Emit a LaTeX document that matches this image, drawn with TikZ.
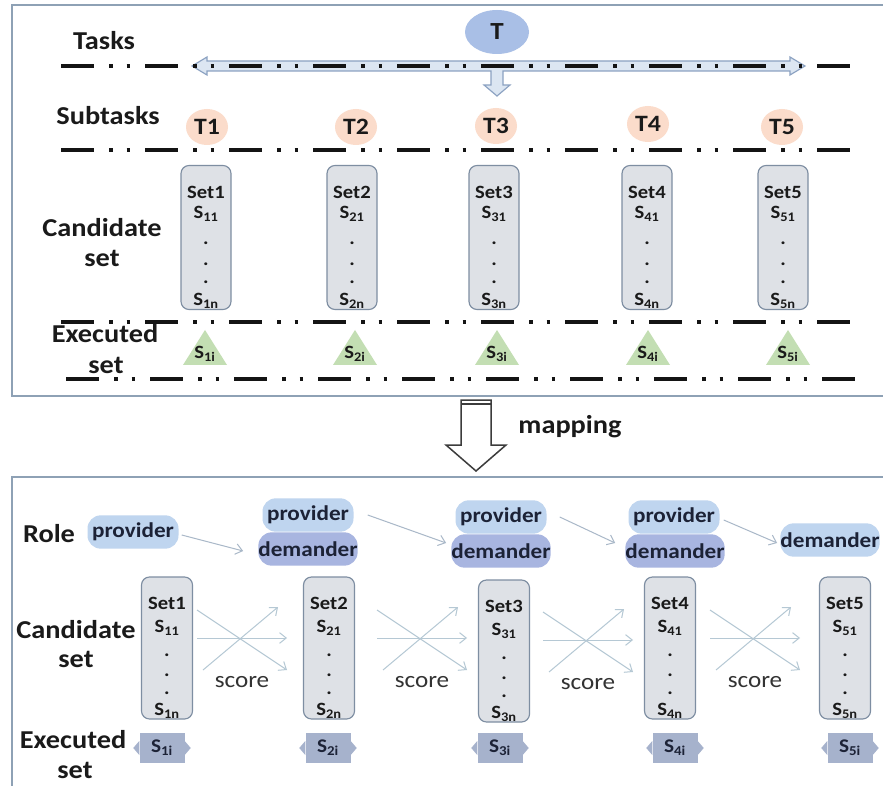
\documentclass[tikz,border=0pt]{standalone}
\usepackage{fontspec}
\setmainfont{Carlito}[FakeStretch=1.1]
\usetikzlibrary{shapes.geometric,arrows.meta,calc}
\definecolor{frameC}{HTML}{8EA1B5}
\definecolor{txtC}{HTML}{1A1A1A}
\definecolor{tC}{HTML}{A9BFE6}
\definecolor{arrF}{HTML}{DCE6F2}
\definecolor{arrD}{HTML}{8CA2C2}
\definecolor{subC}{HTML}{FBDCCB}
\definecolor{boxF}{HTML}{DEE1E6}
\definecolor{boxD}{HTML}{7E8EA2}
\definecolor{triC}{HTML}{C3DEB3}
\definecolor{provC}{HTML}{BFD5EF}
\definecolor{demC}{HTML}{A8B5E0}
\definecolor{exeC}{HTML}{A6B2CC}
\definecolor{rarC}{HTML}{A9B8C8}
\definecolor{xC}{HTML}{B5C8D4}
\definecolor{mapC}{HTML}{3C3C3C}
\definecolor{roleT}{HTML}{1C2236}
\begin{document}
\begin{tikzpicture}[x=0.3mm,y=-0.3mm,
  frame/.style={draw=frameC, line width=0.45mm},
  dline/.style={draw=black!92, line width=1.2mm, dash pattern=on 9.9mm off 4.5mm on 1.05mm off 4.2mm on 1.05mm off 4.5mm},
  lab/.style={font=\fontsize{22}{24}\selectfont\bfseries, text=txtC, anchor=base, inner sep=0pt},
  btxt/.style={font=\fontsize{16}{18}\selectfont\bfseries, text=txtC, anchor=base, inner sep=0pt},
  setbox/.style={draw=boxD, fill=boxF, rounded corners=2.4mm, minimum width=15mm, minimum height=43.2mm, line width=0.35mm, inner sep=0pt},
  subt/.style={ellipse, fill=subC, minimum width=12.6mm, minimum height=10.8mm, inner sep=0pt, font=\fontsize{20}{22}\selectfont\bfseries, text=txtC},
  role/.style={rounded corners=4mm, minimum height=10mm, inner sep=0pt, font=\fontsize{18}{20}\selectfont\bfseries, text=roleT},
  prov/.style={role, fill=provC, minimum width=27.3mm},
  dem/.style={role, fill=demC, minimum width=28.8mm},
  rarr/.style={draw=rarC, line width=0.3mm, -{Straight Barb[length=2mm,width=3.2mm]}},
  xarr/.style={draw=xC, line width=0.3mm, -{Straight Barb[length=2mm,width=3.2mm]}},
  exe/.style={fill=exeC, minimum width=13.5mm, minimum height=9mm, inner sep=0pt, font=\fontsize{16.5}{18}\selectfont\bfseries, text=roleT},
  tritxt/.style={font=\fontsize{16}{18}\selectfont\bfseries, text=txtC, anchor=base, inner sep=0pt},
  sc/.style={font=\fontsize{19.5}{22}\selectfont, text=black!80, anchor=base, inner sep=0pt}
]
\useasboundingbox (0,0) rectangle (883,786);
\clip (0,0) rectangle (883,786);
\fill[white] (0,0) rectangle (883,786);

% frames
\draw[frame] (12,5) rectangle (900,396);
\draw[frame] (12,477) rectangle (900,800);

% ---------------- top part ----------------
\node[ellipse, fill=tC, minimum width=19.2mm, minimum height=13.2mm, inner sep=0pt,
      font=\fontsize{21}{22}\selectfont\bfseries, text=txtC] (T) at (497,32) {T};

\filldraw[fill=arrF, draw=arrD, line width=0.35mm, line join=miter]
  (192,66) -- (207,57) -- (207,61) -- (790,61) -- (790,57) -- (805,66) -- (790,75) -- (790,71)
  -- (503,71) -- (503,85) -- (510,85) -- (497,96) -- (484,85) -- (491,85) -- (491,71)
  -- (207,71) -- (207,75) -- cycle;

\draw[dline] (61,66) -- (851,66);
\draw[dline] (61,150) -- (851,150);
\draw[dline] (61,322) -- (851,322);
\draw[dline] (66,379) -- (856,379);

\node[lab] (lTasks) at (104,50) {Tasks};
\node[lab] (lSub) at (108,125) {Subtasks};
\node[lab] (lCand) at (102,237) {Candidate};
\node[lab] (lCandS) at (102,267) {set};
\node[lab] (lExe) at (105,343) {Executed};
\node[lab] (lExeS) at (106,373) {set};

\foreach \i/\x/\y in {1/207/127,2/356/127,3/496/126,4/648/124,5/782/127}{
  \node[subt] (t\i) at (\x,\y) {T\i};
}

\foreach \i/\x in {1/206,2/352,3/494,4/647,5/783}{
  \node[setbox] (c\i) at (\x,237.5) {};
  \node[btxt] (c\i-a) at ($(c\i.north)+(0,34)$) {Set\i};
  \node[btxt] (c\i-b) at ($(c\i.north)+(0,54)$) {S\textsubscript{\i1}};
  \node[btxt] (c\i-c) at ($(c\i.north)+(0,80)$) {.};
  \node[btxt] (c\i-d) at ($(c\i.north)+(0,101)$) {.};
  \node[btxt] (c\i-e) at ($(c\i.north)+(0,119)$) {.};
  \node[btxt] (c\i-f) at ($(c\i.north)+(0,141)$) {S\textsubscript{\i n}};
}

\foreach \i/\x in {1/205,2/355,3/497,4/648,5/788}{
  \fill[triC] (\x,330) -- (\x+22,365) -- (\x-22,365) -- cycle;
  \node[tritxt] (tr\i) at (\x,358) {S\textsubscript{\i i}};
}

% ---------------- mapping ----------------
\filldraw[fill=white, draw=mapC, line width=0.45mm, line join=miter]
  (461,400) -- (491,400) -- (491,445) -- (506,445) -- (476,471) -- (446,445) -- (461,445) -- cycle;
\draw[mapC, line width=0.45mm] (461,404) -- (491,404);
\node[lab] (lMap) at (570,433) {mapping};

% ---------------- bottom part ----------------
\node[lab] (lRole) at (49,542) {Role};
\node[lab] (lCand2) at (76,638) {Candidate};
\node[lab] (lCand2S) at (76,667) {set};
\node[lab] (lExe2) at (73,748) {Executed};
\node[lab] (lExe2S) at (75,778) {set};

\node[prov] (p1) at (133,532) {provider};
\node[prov] (p2) at (308,515) {provider};
\node[dem]  (d2) at (308,549) {demander};
\node[prov] (p3) at (501,517) {provider};
\node[dem]  (d3) at (501,551) {demander};
\node[prov] (p4) at (674,517) {provider};
\node[dem]  (d4) at (675,551) {demander};
\node[role, fill=provC, minimum width=28.2mm] (d5) at (830,540) {demander};

\draw[rarr] ($(p1.east)+(3,3)$) -- ($(d2.west)+(-15,2)$);
\draw[rarr] ($(p2.east)+(14,0)$) -- ($(d3.west)+(-5,-8)$);
\draw[rarr] ($(p3.east)+(13,0)$) -- ($(d4.west)+(-10,-8)$);
\draw[rarr] ($(p4.east)+(4,3)$) -- ($(d5.west)+(-3,3)$);

\foreach \i/\x/\y in {1/167/648,2/329/648,3/504/651,4/670/648,5/845/648}{
  \node[setbox, minimum width=15.3mm, minimum height=42.6mm] (b\i) at (\x,\y) {};
  \node[btxt] (b\i-a) at ($(b\i.north)+(0,33)$) {Set\i};
  \node[btxt] (b\i-b) at ($(b\i.north)+(0,56)$) {S\textsubscript{\i1}};
  \node[btxt] (b\i-c) at ($(b\i.north)+(0,80)$) {.};
  \node[btxt] (b\i-d) at ($(b\i.north)+(0,100)$) {.};
  \node[btxt] (b\i-e) at ($(b\i.north)+(0,118)$) {.};
  \node[btxt] (b\i-f) at ($(b\i.north)+(0,139)$) {S\textsubscript{\i n}};
}

\foreach \i/\x in {1/162,2/328,3/500,4/675,5/850}{
  \node[exe] (e\i) at (\x,748) {S\textsubscript{\i i}};
  \fill[exeC] ($(e\i.west)+(0,-7)$) -- ($(e\i.west)+(-6,0)$) -- ($(e\i.west)+(0,7)$) -- cycle;
  \fill[exeC] ($(e\i.east)+(0,-7)$) -- ($(e\i.east)+(6,0)$) -- ($(e\i.east)+(0,7)$) -- cycle;
}

\coordinate (k1) at (242,640);
\coordinate (k2) at (422,640);
\coordinate (k3) at (588,642);
\coordinate (k4) at (755,640);
\foreach \k in {1,2,3,4}{
  \draw[xarr] ($(k\k)+(-45,-30)$) -- ($(k\k)+(45,30)$);
  \draw[xarr] ($(k\k)+(-39,30)$) -- ($(k\k)+(36,-33)$);
  \draw[xarr] ($(k\k)+(-45,-2)$) -- ($(k\k)+(45,-2)$);
  \node[sc] (s\k) at ($(k\k)+(0,47)$) {score};
}
\end{tikzpicture}
\end{document}
